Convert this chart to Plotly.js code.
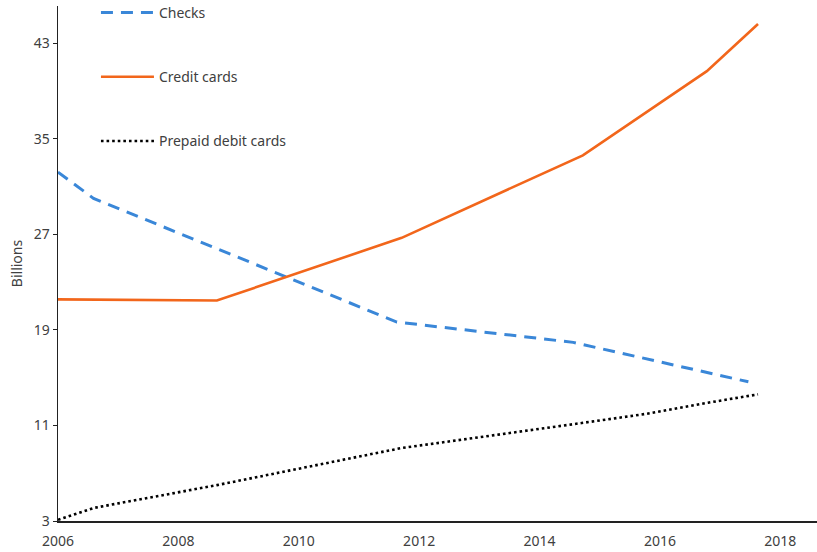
<!DOCTYPE html>
<html>
<head>
<meta charset="utf-8">
<script src="https://cdn.plot.ly/plotly-3.0.1.min.js"></script>
<style>html,body{margin:0;padding:0;background:#fff;}#chart{width:817px;height:552px;}</style>
</head>
<body>
<div id="chart"></div>
<script>
// Data (x as fractional years to match positions)
const checksYears = [2006.0, 2006.59, 2011.63, 2014.56, 2017.47];
const checksValues = [32.2, 30.0, 19.65, 17.95, 14.65];

const creditYears = [2006.0, 2008.64, 2011.71, 2014.72, 2016.78, 2017.63];
const creditValues = [21.55, 21.45, 26.7, 33.6, 40.65, 44.6];

const prepaidYears = [2006.0, 2006.6, 2008.64, 2010.7, 2011.7, 2014.7, 2015.75, 2016.8, 2017.63];
const prepaidValues = [3.1, 4.1, 6.0, 8.1, 9.1, 11.2, 11.95, 12.9, 13.6];

const xTickVals = [2006, 2008, 2010, 2012, 2014, 2016, 2018];
const yTickVals = [3, 11, 19, 27, 35, 43];

const font = {family: "Noto Sans, Open Sans, sans-serif", size: 14, color: "#404040"};

const traces = [
  {x: checksYears, y: checksValues, name: "Checks", mode: "lines", legendgroup: "a",
   line: {color: "#3a87d8", width: 3, dash: "12px,8px"}},
  {x: creditYears, y: creditValues, name: "Credit cards", mode: "lines", legendgroup: "b",
   line: {color: "#f2661b", width: 2.6}},
  {x: prepaidYears, y: prepaidValues, name: "Prepaid debit cards", mode: "lines", legendgroup: "c",
   line: {color: "#000000", width: 2.6, dash: "2.6px,3px"}}
];

const layout = {
  width: 817, height: 552,
  margin: {l: 58, r: 0, t: 6, b: 31, autoexpand: false},
  paper_bgcolor: "#ffffff", plot_bgcolor: "#ffffff",
  font: font,
  showlegend: true,
  legend: {x: 0.05, y: 1.0175, xanchor: "left", yanchor: "top", traceorder: "grouped",
           tracegroupgap: 43, itemwidth: 53, font: font, bgcolor: "rgba(0,0,0,0)"},
  xaxis: {range: [2006, 2018.61], tickvals: xTickVals, ticktext: xTickVals.map(String),
          showgrid: false, zeroline: false, showline: true, linecolor: "#222", linewidth: 1.5,
          ticks: "", ticklabelstandoff: 7, tickfont: font},
  yaxis: {range: [3, 46.1], tickvals: yTickVals, showgrid: false, zeroline: false,
          showline: true, linecolor: "#222", linewidth: 1.5, ticks: "outside", ticklen: 4,
          tickcolor: "#222", tickfont: font,
          title: {text: "Billions", font: font, standoff: 8}}
};

Plotly.newPlot("chart", traces, layout, {displayModeBar: false, staticPlot: true});
</script>
</body>
</html>
